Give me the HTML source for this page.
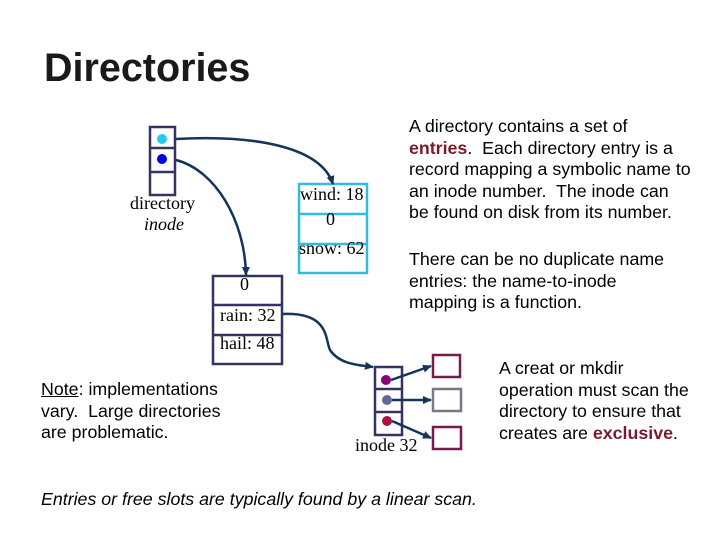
<!DOCTYPE html>
<html><head><style>
body{margin:0;width:720px;height:540px;background:#fff;position:relative;overflow:hidden;font-family:"Liberation Sans",sans-serif}
.t{position:absolute;white-space:nowrap}
.s{font-family:"Liberation Serif",serif;font-size:18px;color:#000}
.a{font-size:17.8px;line-height:21.5px;color:#000}
.r{color:#7a1a2e;font-weight:bold}
</style></head><body>
<div class="t" style="left:44px;top:46px;font-size:39.5px;font-weight:bold;color:#1a1a1a">Directories</div>
<svg width="720" height="540" style="position:absolute;left:0;top:0">
<defs><marker id="m" markerUnits="userSpaceOnUse" markerWidth="9" markerHeight="8" refX="8" refY="4" orient="auto"><path d="M0,0 L9,4 L0,8z" fill="#16335a"/></marker></defs>
<g fill="none" stroke="#333366" stroke-width="2.5">
<rect x="150" y="127" width="25" height="68"/><line x1="150" y1="148" x2="175" y2="148"/><line x1="150" y1="172" x2="175" y2="172"/>
<rect x="213" y="276" width="69" height="88"/><line x1="213" y1="305" x2="282" y2="305"/><line x1="213" y1="335" x2="282" y2="335"/>
<rect x="375" y="367" width="27" height="68"/><line x1="375" y1="389" x2="402" y2="389"/><line x1="375" y1="412" x2="402" y2="412"/>
</g>
<g fill="none" stroke="#33bbdd" stroke-width="2.5">
<rect x="299" y="184" width="68" height="89"/><line x1="299" y1="214" x2="367" y2="214"/><line x1="299" y1="244" x2="367" y2="244"/>
</g>
<rect x="433" y="355" width="27" height="22" fill="none" stroke="#7a1a4a" stroke-width="2.5"/>
<rect x="433" y="389" width="28" height="22" fill="none" stroke="#777788" stroke-width="2.5"/>
<rect x="433" y="427" width="28" height="22" fill="none" stroke="#7a1a4a" stroke-width="2.5"/>
<circle cx="162" cy="139" r="5" fill="#22ccee"/>
<circle cx="162" cy="159" r="5" fill="#0000dd"/>
<circle cx="386" cy="380" r="5" fill="#880077"/>
<circle cx="387" cy="400" r="5" fill="#666699"/>
<circle cx="387" cy="421" r="5" fill="#aa1144"/>
<g fill="none" stroke="#16335a" stroke-width="2.5" marker-end="url(#m)">
<path d="M176,139 C250,135 320,145 333,184"/>
<path d="M176,160 C215,170 245,220 246,275"/>
<path d="M283,314 C330,312 325,340 330,350 C340,365 360,365 373,367"/>
<path d="M391,380 L431,366"/>
<path d="M392,400 L431,400"/>
<path d="M392,421 L431,438"/>
</g>
</svg>
<div class="t s" style="left:130px;top:193px">directory</div>
<div class="t s" style="left:144px;top:214px;font-style:italic">inode</div>
<div class="t s" style="left:300px;top:184px">wind: 18</div>
<div class="t s" style="left:326px;top:209px">0</div>
<div class="t s" style="left:299px;top:238px">snow: 62</div>
<div class="t s" style="left:240px;top:274px">0</div>
<div class="t s" style="left:220px;top:305px">rain: 32</div>
<div class="t s" style="left:220px;top:333px">hail: 48</div>
<div class="t s" style="left:355px;top:435px">inode 32</div>
<div class="t a" style="left:409px;top:116px">A directory contains a set of<br><span class="r">entries</span>.&nbsp; Each directory entry is a<br>record mapping a symbolic name to<br>an inode number.&nbsp; The inode can<br>be found on disk from its number.</div>
<div class="t a" style="left:409px;top:249px">There can be no duplicate name<br>entries: the name-to-inode<br>mapping is a function.</div>
<div class="t a" style="left:499px;top:358px">A creat or mkdir<br>operation must scan the<br>directory to ensure that<br>creates are <span class="r">exclusive</span>.</div>
<div class="t a" style="left:41px;top:379px"><u>Note</u>: implementations<br>vary.&nbsp; Large directories<br>are problematic.</div>
<div class="t a" style="left:41px;top:489px;font-style:italic">Entries or free slots are typically found by a linear scan.</div>
</body></html>
